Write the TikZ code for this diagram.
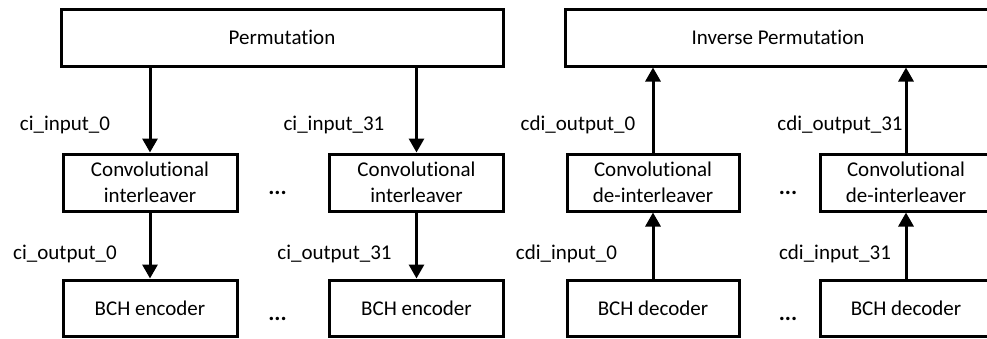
\documentclass[tikz,border=0pt]{standalone}
\usepackage{fontspec}
\setmainfont{Carlito}[Ligatures=NoCommon]
\usetikzlibrary{arrows.meta}
\begin{document}
\begin{tikzpicture}[x=1pt,y=-1pt,
  txt/.style={font=\fontsize{21}{25.6}\selectfont},
  blk/.style={txt,draw,line width=3pt,inner sep=0pt,align=center,
              minimum width=174pt,minimum height=57pt},
  wide/.style={blk,minimum width=#1},
  lbl/.style={txt,anchor=base,inner sep=0pt},
  gap/.style={anchor=base,inner sep=0pt,font=\fontsize{23}{26}\selectfont\bfseries},
  flow/.style={line width=3pt,-{Triangle[width=15pt,length=14pt]}}]
\useasboundingbox (0,0) rectangle (987,338);
\clip (0,0) rectangle (987,338);

% encoder chain
\node[wide=442pt] (perm) at (282,37.5) {Permutation};
\node[blk] (ci0)  at (150,182.5) {Convolutional\\interleaver};
\node[blk] (ci31) at (416.5,182.5) {Convolutional\\interleaver};
\node[blk,minimum height=56pt] (enc0)  at (150,308) {BCH encoder};
\node[blk,minimum height=56pt] (enc31) at (416.5,308) {BCH encoder};

\draw[flow] (perm.south -| ci0.north) -- (ci0.north);
\draw[flow] (perm.south -| ci31.north) -- (ci31.north);
\draw[flow] (ci0.south) -- (enc0.north);
\draw[flow] (ci31.south) -- (enc31.north);

\node[lbl] (l1) at (65,130) {ci\_input\_0};
\node[lbl] (l2) at (334,130) {ci\_input\_31};
\node[lbl] (l3) at (65,259) {ci\_output\_0};
\node[lbl] (l4) at (334.5,259) {ci\_output\_31};
\node[gap] (d1) at (277.5,194.5) {...};
\node[gap] (d2) at (277.5,320.5) {...};

% decoder chain
\node[wide=426pt] (iperm) at (778,37.5) {Inverse Permutation};
\node[blk,minimum width=172pt] (cdi0)  at (653,182.5) {Convolutional\\de-interleaver};
\node[blk,minimum width=172pt] (cdi31) at (906,182.5) {Convolutional\\de-interleaver};
\node[blk,minimum width=172pt,minimum height=56pt] (dec0)  at (653,308) {BCH decoder};
\node[blk,minimum width=172pt,minimum height=56pt] (dec31) at (906,308) {BCH decoder};

\draw[flow] (cdi0.north) -- (cdi0.north |- iperm.south);
\draw[flow] (cdi31.north) -- (cdi31.north |- iperm.south);
\draw[flow] (dec0.north) -- (cdi0.south);
\draw[flow] (dec31.north) -- (cdi31.south);

\node[lbl] (r1) at (578,130) {cdi\_output\_0};
\node[lbl] (r2) at (840,130) {cdi\_output\_31};
\node[lbl] (r3) at (566.5,259) {cdi\_input\_0};
\node[lbl] (r4) at (835,259) {cdi\_input\_31};
\node[gap] (d3) at (788,194.5) {...};
\node[gap] (d4) at (788,320.5) {...};
\end{tikzpicture}
\end{document}
